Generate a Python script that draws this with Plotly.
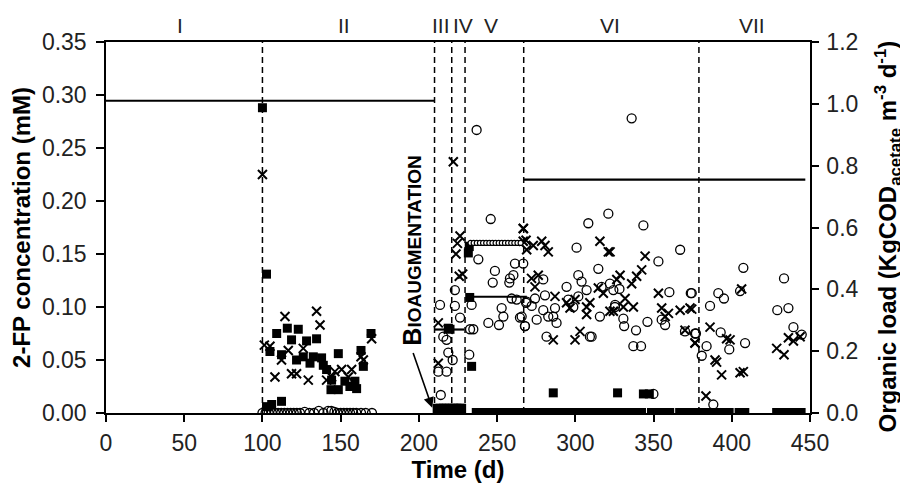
import plotly.graph_objects as go

FONT = "Arial, 'Liberation Sans', Helvetica, sans-serif"

# ---------------- data ----------------
phase_bounds = [100, 210, 221, 229.5, 267, 379]
phase_names = ["I", "II", "III", "IV", "V", "VI", "VII"]
phase_label_x = [47, 152, 214, 228, 246, 322, 413]

# organic load segments (right axis, KgCOD m-3 d-1)
load_seg_days = [[0, 210], [210, 229], [230, 267], [232, 269], [267, 447]]
load_seg_vals = [[1.01, 1.01], [0.27, 0.27], [0.55, 0.55], [0.376, 0.376], [0.755, 0.755]]
load_dense_days = [233, 235, 237, 239, 241, 243, 245, 247, 249, 251, 253, 255, 257, 259, 261, 263, 265]
load_dense_vals = [0.55] * len(load_dense_days)

# filled squares (left axis, mM)
sq_days = [100, 102.6, 104.8, 109.1, 115.9, 122.9, 118.6, 128.2, 134.6, 112.2, 121.8, 126.1,
           132.5, 130.4, 137.8, 138.9, 141, 144.2, 143.8, 148.5, 148.5, 152.7, 155.9, 159.1,
           160.2, 163, 164.5, 169.4, 102.6, 105.9, 112.2,
           218.8, 219.9, 231.6, 232.2, 232.5, 233.7, 285.9, 327, 343.5, 347.3]
sq_vals = [0.288, 0.131, 0.058, 0.075, 0.080, 0.079, 0.069, 0.068, 0.070, 0.055, 0.050, 0.053,
           0.053, 0.047, 0.052, 0.045, 0.041, 0.031, 0.022, 0.022, 0.056, 0.030, 0.025, 0.030,
           0.023, 0.059, 0.044, 0.075, 0.006, 0.008, 0.011,
           0.080, 0.079, 0.151, 0.157, 0.109, 0.044, 0.019, 0.019, 0.018, 0.018]
# filled squares at (near) zero
sq0_days = [212, 214, 216, 218, 220, 222, 224, 226, 227,
            237, 240, 243, 246, 249, 252, 255, 258, 261, 264, 267, 270, 273, 276, 279, 282,
            285, 288, 291, 294, 297, 300, 303, 306, 309, 312, 315, 318, 321, 324, 327, 330,
            333, 336, 339, 342,
            349, 352, 355, 358, 360,
            367, 370, 373, 376, 379, 382, 385, 388, 391, 394, 397, 398,
            405, 408,
            429, 432, 435, 438, 441, 444]
sq0_vals = [0.004] * 9 + [0.0] * 61

# open circles (left axis, mM)
ci_days = [100, 102, 104, 106, 108, 110, 112, 114, 116, 118, 120, 122, 124, 127, 130, 133,
           136, 139, 142, 144, 146, 148, 150, 152, 154, 156, 158, 160, 163, 166, 170,
           236.9, 245.9, 238, 248.6, 247.2, 258.2, 260.4, 261.4, 257.8, 213.5, 223, 223, 226.3,
           233.7, 232.7, 234.8, 244.4, 251.2, 254, 252.9, 259.3, 262.5, 264.6, 268.5, 267.8,
           217.7, 215.6, 218.8, 221.6, 212.4, 217.7, 214, 232.2,
           321.1, 308.3, 300.8, 266.7, 279.5, 301.9, 304, 294.4, 307.2, 314.7, 316.8, 322.1,
           324.3, 268.9, 274.2, 272.1, 280.6, 287, 279.5, 282.7, 285.9, 288, 275.3, 267.8,
           265.7, 295.5, 298.7, 301.9, 315.7, 325.3, 281.6, 309.3, 310.4,
           336, 343.5, 367, 353.1, 360.1, 373.8, 346.1, 338.8, 331.2, 330.7, 328.2, 325.4,
           355.2, 357.4, 370.1, 376.5, 337.1, 342, 349.9,
           407.4, 433.4, 374.4, 391.4, 395, 405.3, 386.1, 429.1, 436.2, 377.1, 392.9, 439.4,
           444.7, 383.9, 398.4, 408.5, 380.8, 388.2]
ci_vals = [0.0, 0.0, 0.0, 0.0, 0.0, 0.0, 0.0, 0.0, 0.0, 0.0, 0.0, 0.0, 0.0, 0.001, 0.0, 0.0,
           0.002, 0.0, 0.002, 0.002, 0.001, 0.0, 0.0, 0.0, 0.0, 0.0, 0.0, 0.0, 0.0, 0.0, 0.0,
           0.267, 0.183, 0.145, 0.134, 0.123, 0.127, 0.130, 0.141, 0.123, 0.102, 0.101, 0.116, 0.090,
           0.102, 0.079, 0.079, 0.085, 0.083, 0.091, 0.099, 0.108, 0.107, 0.090, 0.104, 0.082,
           0.069, 0.072, 0.057, 0.050, 0.039, 0.039, 0.017, 0.055,
           0.188, 0.179, 0.156, 0.141, 0.126, 0.130, 0.124, 0.119, 0.116, 0.136, 0.119, 0.122,
           0.116, 0.105, 0.108, 0.101, 0.111, 0.099, 0.097, 0.091, 0.091, 0.085, 0.088, 0.082,
           0.091, 0.107, 0.100, 0.110, 0.091, 0.100, 0.072, 0.072, 0.072,
           0.278, 0.177, 0.154, 0.143, 0.114, 0.113, 0.086, 0.078, 0.082, 0.089, 0.117, 0.102,
           0.088, 0.083, 0.077, 0.075, 0.063, 0.063, 0.018,
           0.137, 0.127, 0.113, 0.113, 0.108, 0.115, 0.101, 0.097, 0.099, 0.075, 0.076, 0.081,
           0.074, 0.063, 0.060, 0.066, 0.054, 0.008]

# crosses (left axis, mM)
cr_days = [100, 101.2, 104.8, 114.4, 134.6, 136.8, 116.5, 108, 118.6, 121.8, 129.3, 126.1,
           112.2, 141, 150.6, 157, 154.9, 163, 169.8, 164.5, 144.2, 146.3,
           222, 226.3, 224.6, 223.7, 225.8, 228, 212.4, 218.8, 212.4, 266.8, 268.5, 268.9,
           266.7, 266.7, 273.1, 278.5, 280.6, 282.7, 315.7, 321.1, 272, 276.3, 274.2, 287,
           294.4, 296.6, 299.8, 307.2, 309.3, 307.2, 314.7, 317.9, 322.1, 285.9, 299.8, 303,
           322.2, 344.6, 342.4, 339.2, 336, 328.6, 326.5, 331.8, 337.1, 330.7, 324.3, 353.1,
           355.2, 359.5, 357.4, 367, 373.3, 370.1, 376.5,
           374.4, 386.1, 396.7, 398.9, 376.5, 389.3, 390.3, 393.5, 405.3, 407.4, 406.3,
           428.7, 433.4, 436.2, 439.4, 443.7, 383.5]
cr_vals = [0.225, 0.064, 0.063, 0.091, 0.096, 0.083, 0.059, 0.034, 0.037, 0.037, 0.031, 0.061,
           0.050, 0.031, 0.041, 0.041, 0.034, 0.053, 0.070, 0.050, 0.034, 0.039,
           0.237, 0.167, 0.160, 0.150, 0.129, 0.131, 0.085, 0.079, 0.047, 0.174, 0.163, 0.154,
           0.174, 0.162, 0.158, 0.162, 0.158, 0.152, 0.162, 0.152, 0.127, 0.130, 0.119, 0.110,
           0.104, 0.099, 0.107, 0.100, 0.104, 0.093, 0.118, 0.113, 0.096, 0.069, 0.069, 0.077,
           0.152, 0.148, 0.135, 0.129, 0.122, 0.130, 0.126, 0.108, 0.100, 0.100, 0.096, 0.113,
           0.099, 0.094, 0.091, 0.097, 0.099, 0.078, 0.066,
           0.098, 0.081, 0.070, 0.069, 0.066, 0.050, 0.048, 0.036, 0.038, 0.039, 0.117,
           0.061, 0.055, 0.071, 0.068, 0.072, 0.016]

x_ticks = [0, 50, 100, 150, 200, 250, 300, 350, 400, 450]
y_left_ticks = [0.00, 0.05, 0.10, 0.15, 0.20, 0.25, 0.30, 0.35]
y_right_ticks = [0.0, 0.2, 0.4, 0.6, 0.8, 1.0, 1.2]

# arrow annotation positions (data units)
bio_text_pos = (195.5, 0.153)
bio_arrow_tail = (196.0, 0.058)
bio_arrow_head = (208.5, 0.005)

# ---------------- figure ----------------
fig = go.Figure()

for b in phase_bounds:
    fig.add_trace(go.Scatter(x=[b, b], y=[0, 0.35], mode="lines",
                             line=dict(color="black", width=1.5, dash="6px,4px"),
                             showlegend=False, hoverinfo="skip"))

for d, v in zip(load_seg_days, load_seg_vals):
    fig.add_trace(go.Scatter(x=d, y=v, mode="lines", yaxis="y2",
                             line=dict(color="black", width=2.2),
                             showlegend=False, hoverinfo="skip"))
fig.add_trace(go.Scatter(x=[load_dense_days[0], load_dense_days[-1]], y=[0.55, 0.55], mode="lines",
                         yaxis="y2", line=dict(color="black", width=6), showlegend=False))
fig.add_trace(go.Scatter(x=load_dense_days, y=load_dense_vals, mode="markers", yaxis="y2",
                         marker=dict(symbol="circle", size=5, color="white",
                                     line=dict(color="black", width=1.2)),
                         showlegend=False))

fig.add_trace(go.Scatter(x=sq0_days, y=sq0_vals, mode="markers",
                         marker=dict(symbol="square", size=10, color="black"), showlegend=False))
fig.add_trace(go.Scatter(x=ci_days, y=ci_vals, mode="markers",
                         marker=dict(symbol="circle-open", size=9, color="black",
                                     line=dict(width=1.3)), showlegend=False))
fig.add_trace(go.Scatter(x=sq_days, y=sq_vals, mode="markers",
                         marker=dict(symbol="square", size=9, color="black"), showlegend=False))
fig.add_trace(go.Scatter(x=cr_days, y=cr_vals, mode="markers",
                         marker=dict(symbol="x-thin-open", size=9, color="black",
                                     line=dict(width=2, color="black")), showlegend=False))

annotations = []
for name, px in zip(phase_names, phase_label_x):
    annotations.append(dict(x=px, y=1, xref="x", yref="paper", text=name, showarrow=False,
                            yanchor="bottom", yshift=3,
                            font=dict(family=FONT, size=21, color="#222")))

annotations.append(dict(x=bio_text_pos[0], y=bio_text_pos[1], xref="x", yref="y",
                        text="<b><span style='font-size:25px'>B</span>IOAUGMENTATION</b>",
                        textangle=-90, showarrow=False,
                        font=dict(family=FONT, size=19, color="black")))
annotations.append(dict(x=bio_arrow_head[0], y=bio_arrow_head[1], xref="x", yref="y",
                        ax=bio_arrow_tail[0], ay=bio_arrow_tail[1], axref="x", ayref="y",
                        text="", showarrow=True, arrowhead=2, arrowsize=1.3, arrowwidth=1.6,
                        arrowcolor="black"))
# right-axis title as an annotation so it can be placed like the reference
annotations.append(dict(x=1, y=0.5, xref="paper", yref="paper", xanchor="center", yanchor="middle",
                        xshift=77, yshift=-9, textangle=-90, showarrow=False,
                        text="<b>Organic load (KgCOD<sub>acetate</sub> m<sup>-3</sup> d<sup>-1</sup>)</b>",
                        font=dict(family=FONT, size=24, color="black")))

fig.update_layout(
    width=900, height=479,
    margin=dict(l=98, r=98, t=34, b=74),
    paper_bgcolor="white", plot_bgcolor="white",
    font=dict(family=FONT, size=23, color="black"),
    showlegend=False,
    annotations=annotations,
    xaxis=dict(range=[0, 450], tickvals=x_ticks, showgrid=False, zeroline=False, automargin=False,
               showline=True, linecolor="black", linewidth=1.5, mirror=True,
               ticks="outside", ticklen=7, tickwidth=1.5, tickcolor="black",
               ticklabelstandoff=2,
               tickfont=dict(size=23, color="#222"),
               title=dict(text="<b>Time (d)</b>", font=dict(size=24), standoff=6)),
    yaxis=dict(range=[0, 0.35], tickvals=y_left_ticks, tickformat=".2f", showgrid=False,
               zeroline=False, showline=True, linecolor="black", linewidth=1.5, automargin=False,
               ticks="outside", ticklen=8, tickwidth=1.5, tickcolor="black",
               ticklabelstandoff=5,
               tickfont=dict(size=23, color="#222"),
               title=dict(text="<b>2-FP concentration (mM)</b>", font=dict(size=24), standoff=5)),
    yaxis2=dict(range=[0, 1.2], tickvals=y_right_ticks, tickformat=".1f", overlaying="y",
                side="right", showgrid=False, zeroline=False, showline=True, automargin=False,
                linecolor="black", linewidth=1.5,
                ticks="outside", ticklen=7, tickwidth=1.5, tickcolor="black",
                ticklabelstandoff=3,
                tickfont=dict(size=23, color="#222")),
)

fig.write_html("out.html")
